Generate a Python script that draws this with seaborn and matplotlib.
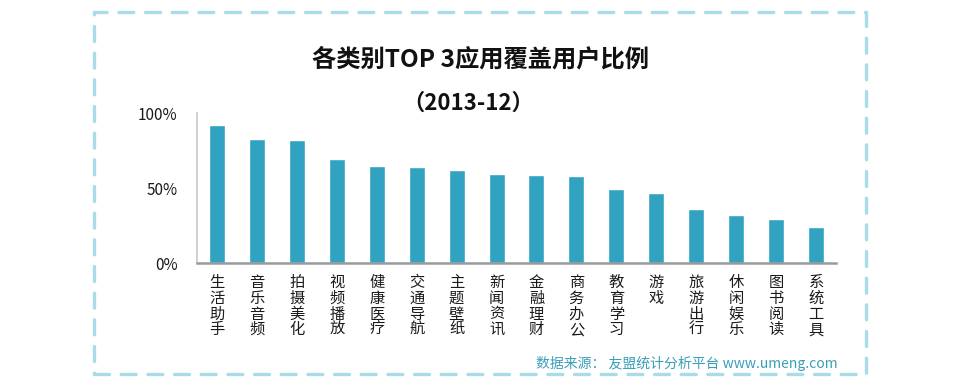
import matplotlib
matplotlib.use('Agg')
import pandas as pd
import matplotlib.pyplot as plt
import seaborn as sns
from matplotlib.patches import Rectangle

sns.set_style('white')
plt.rcParams['font.family'] = ['Noto Sans CJK SC', 'DejaVu Sans']
plt.rcParams['axes.unicode_minus'] = False

# 各类别 TOP3 应用覆盖用户比例 (%)
categories = ['生活助手', '音乐音频', '拍摄美化', '视频播放', '健康医疗', '交通导航',
              '主题壁纸', '新闻资讯', '金融理财', '商务办公', '教育学习', '游戏',
              '旅游出行', '休闲娱乐', '图书阅读', '系统工具']
values = [92, 82.7, 82, 69.3, 64.7, 64, 62, 59.3, 58.7, 58, 49.3, 46.7, 36, 32, 29.3, 24]
ytick_vals = [0, 50, 100]
ytick_labels = ['0%', '50%', '100%']

df = pd.DataFrame({'类别': categories, '比例': values})

W, H = 977, 379
fig = plt.figure(figsize=(W / 100, H / 100), dpi=100)

# 虚线边框
border = Rectangle((94 / W, 1 - 374 / H), 772 / W, 362 / H, transform=fig.transFigure,
                   fill=False, edgecolor='#a9dbe8', linewidth=2.4,
                   linestyle=(0, (4.5, 3.5)), capstyle='round')
fig.patches.append(border)

ax = fig.add_axes([197 / W, 1 - 263 / H, 639 / W, 150 / H])
sns.barplot(data=df, x='类别', y='比例', color='#31a3c1', width=0.4,
            saturation=1, ax=ax)

ax.set_xlim(-0.5, len(categories) - 0.5)
ax.set_ylim(0, 100)
ax.set_yticks(ytick_vals)
ax.set_yticklabels(ytick_labels, fontsize=11, color='#1a1a1a')
ax.set_xticks(range(len(categories)))
ax.set_xticklabels(['\n'.join(c) for c in categories], fontsize=11,
                   linespacing=0.9, va='top', color='#1a1a1a')
ax.tick_params(axis='x', length=0, pad=8)
ax.tick_params(axis='y', length=0, pad=14)
ax.set_xlabel('')
ax.set_ylabel('')

for s in ['top', 'right']:
    ax.spines[s].set_visible(False)
ax.spines['left'].set_color('#c8c8c8')
ax.spines['left'].set_linewidth(1.2)
ax.spines['bottom'].set_color('#9a9a9a')
ax.spines['bottom'].set_linewidth(1.8)

fig.text(481 / W, 1 - 60 / H, '各类别TOP 3应用覆盖用户比例', ha='center', va='center',
         fontsize=17.5, fontweight='bold', color='#111111')
fig.text(468 / W, 1 - 103 / H, '（2013-12）', ha='center', va='center',
         fontsize=16, fontweight='bold', color='#111111')
fig.text(838 / W, 1 - 363 / H, '数据来源： 友盟统计分析平台 www.umeng.com', ha='right',
         va='center', fontsize=10, color='#3a9fb8')

fig.savefig('out.png', dpi=100)
